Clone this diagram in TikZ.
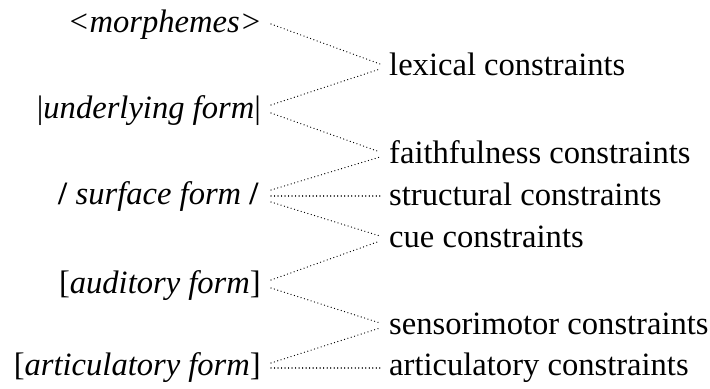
\documentclass[tikz,border=0pt]{standalone}
\usepackage{fontspec}
\setmainfont{Liberation Serif}[ItalicFont={Liberation Serif Italic},BoldFont={Liberation Serif Bold}]
\begin{document}
\begin{tikzpicture}[x=1bp,y=-1bp,
  every node/.style={inner sep=0pt, font=\fontsize{32.7}{39}\selectfont},
  lbl/.style={anchor=base east},
  rbl/.style={anchor=base west},
  link/.style={line width=1.3bp, line cap=round, dash pattern=on 0.01bp off 3.5bp}]
\useasboundingbox (0,0) rectangle (710,388);
\node[lbl] (m)  at (262,32)  {\textit{<morphemes>}};
\node[lbl] (u)  at (261,118) {|\textit{underlying form}|};
\node[lbl] (s)  at (259,204) {\textbf{/} \textit{surface form} \textbf{/}};
\node[lbl] (a)  at (261,293) {[\textit{auditory form}]};
\node[lbl] (ar) at (261,375) {[\textit{articulatory form}]};
\node[rbl] (lc)  at (389,75)  {lexical constraints};
\node[rbl] (fc)  at (389,163) {faithfulness constraints};
\node[rbl] (sc)  at (389,205) {structural constraints};
\node[rbl] (cc)  at (389,247) {cue constraints};
\node[rbl] (smc) at (389,334) {sensorimotor constraints};
\node[rbl] (ac)  at (389,375) {articulatory constraints};
\draw[link] ([xshift=9bp,yshift=8bp]m.base east)   -- ([xshift=-9bp,yshift=11bp]lc.base west);
\draw[link] ([xshift=10bp,yshift=13bp]u.base east) -- ([xshift=-9bp,yshift=6bp]lc.base west);
\draw[link] ([xshift=10bp,yshift=5bp]u.base east)  -- ([xshift=-9bp,yshift=11bp]fc.base west);
\draw[link] ([xshift=12bp,yshift=14bp]s.base east) -- ([xshift=-9bp,yshift=6bp]fc.base west);
\draw[link] ([xshift=12bp,yshift=8bp]s.base east)  -- ([xshift=-9bp,yshift=9bp]sc.base west);
\draw[link] ([xshift=12bp,yshift=2bp]s.base east)  -- ([xshift=-9bp,yshift=11bp]cc.base west);
\draw[link] ([xshift=10bp,yshift=13bp]a.base east) -- ([xshift=-9bp,yshift=6bp]cc.base west);
\draw[link] ([xshift=10bp,yshift=5bp]a.base east)  -- ([xshift=-9bp,yshift=11bp]smc.base west);
\draw[link] ([xshift=10bp,yshift=12bp]ar.base east) -- ([xshift=-9bp,yshift=6bp]smc.base west);
\draw[link] ([xshift=10bp,yshift=7bp]ar.base east)  -- ([xshift=-9bp,yshift=7bp]ac.base west);
\end{tikzpicture}
\end{document}
